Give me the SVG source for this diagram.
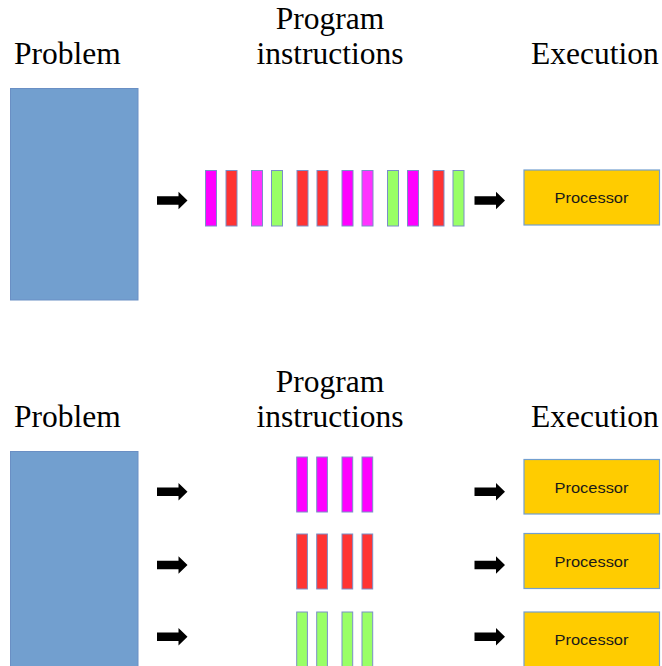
<svg xmlns="http://www.w3.org/2000/svg" xmlns:xlink="http://www.w3.org/1999/xlink" width="662" height="666" viewBox="0 0 662 666">
<style>
.hdr{font-family:"Liberation Serif","Times New Roman",serif;font-size:31.5px;fill:#000}
.mid{text-anchor:middle}
.prob{fill:#729FCF;stroke:#6A8FC4;stroke-width:1}
.proc{fill:#FFCC00;stroke:#729FCF;stroke-width:1.2}
.ptxt{font-family:"Liberation Sans",Arial,sans-serif;font-size:15px;fill:#1a1a1a;text-anchor:middle}
.bar{stroke:#7A8FC8;stroke-width:1}
.m{fill:#FF00FF}
.ml{fill:#FF33FF}
.r{fill:#FF3333}
.g{fill:#99FF66}
.arrow{fill:#000}
</style>
<defs>
<polygon id="arr" class="arrow" points="0,-4.2 21.5,-4.2 21.5,-8.8 30.5,0 21.5,8.8 21.5,4.2 0,4.2"/>
</defs>
<rect width="662" height="666" fill="#fff"/>

<!-- Top section -->
<g id="label-problem-1"><text class="hdr" x="14" y="64">Problem</text></g>
<g id="label-program-1"><text class="hdr mid" x="330" y="29">Program</text><text class="hdr mid" x="330" y="63.5">instructions</text></g>
<g id="label-execution-1"><text class="hdr" x="531" y="64">Execution</text></g>
<g id="problem-1"><rect class="prob" x="10.5" y="88.5" width="127.5" height="211.5"/></g>
<g id="instructions-1">
<rect class="bar m" x="205.5" y="170.5" width="11" height="55.5"/>
<rect class="bar r" x="226" y="170.5" width="11" height="55.5"/>
<rect class="bar ml" x="251.5" y="170.5" width="11" height="55.5"/>
<rect class="bar g" x="271.5" y="170.5" width="11" height="55.5"/>
<rect class="bar r" x="297" y="170.5" width="11" height="55.5"/>
<rect class="bar r" x="317" y="170.5" width="11" height="55.5"/>
<rect class="bar m" x="342" y="170.5" width="11" height="55.5"/>
<rect class="bar ml" x="362" y="170.5" width="11" height="55.5"/>
<rect class="bar g" x="387.5" y="170.5" width="11" height="55.5"/>
<rect class="bar m" x="407.5" y="170.5" width="11" height="55.5"/>
<rect class="bar r" x="433" y="170.5" width="11" height="55.5"/>
<rect class="bar g" x="453" y="170.5" width="11" height="55.5"/>
</g>
<g id="processor-1"><rect class="proc" x="524" y="170" width="135.5" height="55"/><text class="ptxt" x="591.5" y="202.5" textLength="74" lengthAdjust="spacingAndGlyphs">Processor</text></g>

<!-- Bottom section -->
<g id="label-problem-2"><text class="hdr" x="14" y="427">Problem</text></g>
<g id="label-program-2"><text class="hdr mid" x="330" y="392">Program</text><text class="hdr mid" x="330" y="426.5">instructions</text></g>
<g id="label-execution-2"><text class="hdr" x="531" y="427">Execution</text></g>
<g id="problem-2"><rect class="prob" x="10.5" y="451.5" width="127.5" height="220"/></g>
<g id="instructions-2a">
<rect class="bar m" x="296.7" y="457" width="10.7" height="55"/>
<rect class="bar m" x="316.7" y="457" width="10.7" height="55"/>
<rect class="bar m" x="342" y="457" width="10.7" height="55"/>
<rect class="bar m" x="362" y="457" width="10.7" height="55"/>
</g>
<g id="instructions-2b">
<rect class="bar r" x="296.7" y="534" width="10.7" height="55"/>
<rect class="bar r" x="316.7" y="534" width="10.7" height="55"/>
<rect class="bar r" x="342" y="534" width="10.7" height="55"/>
<rect class="bar r" x="362" y="534" width="10.7" height="55"/>
</g>
<g id="instructions-2c">
<rect class="bar g" x="296.7" y="612" width="10.7" height="60"/>
<rect class="bar g" x="316.7" y="612" width="10.7" height="60"/>
<rect class="bar g" x="342" y="612" width="10.7" height="60"/>
<rect class="bar g" x="362" y="612" width="10.7" height="60"/>
</g>
<g id="processor-2a"><rect class="proc" x="524" y="459.5" width="135.5" height="54.5"/><text class="ptxt" x="591.5" y="493" textLength="74" lengthAdjust="spacingAndGlyphs">Processor</text></g>
<g id="processor-2b"><rect class="proc" x="524" y="533.5" width="135.5" height="55"/><text class="ptxt" x="591.5" y="566.5" textLength="74" lengthAdjust="spacingAndGlyphs">Processor</text></g>
<g id="processor-2c"><rect class="proc" x="524" y="612" width="135.5" height="60"/><text class="ptxt" x="591.5" y="645" textLength="74" lengthAdjust="spacingAndGlyphs">Processor</text></g>

<g id="connectors">
<use xlink:href="#arr" href="#arr" x="157" y="200.5"/>
<use xlink:href="#arr" href="#arr" x="474.5" y="200.5"/>
<use xlink:href="#arr" href="#arr" x="157" y="491.7"/>
<use xlink:href="#arr" href="#arr" x="157" y="565"/>
<use xlink:href="#arr" href="#arr" x="157" y="636.7"/>
<use xlink:href="#arr" href="#arr" x="474.5" y="491.7"/>
<use xlink:href="#arr" href="#arr" x="474.5" y="565"/>
<use xlink:href="#arr" href="#arr" x="474.5" y="636.7"/>
</g>
</svg>
